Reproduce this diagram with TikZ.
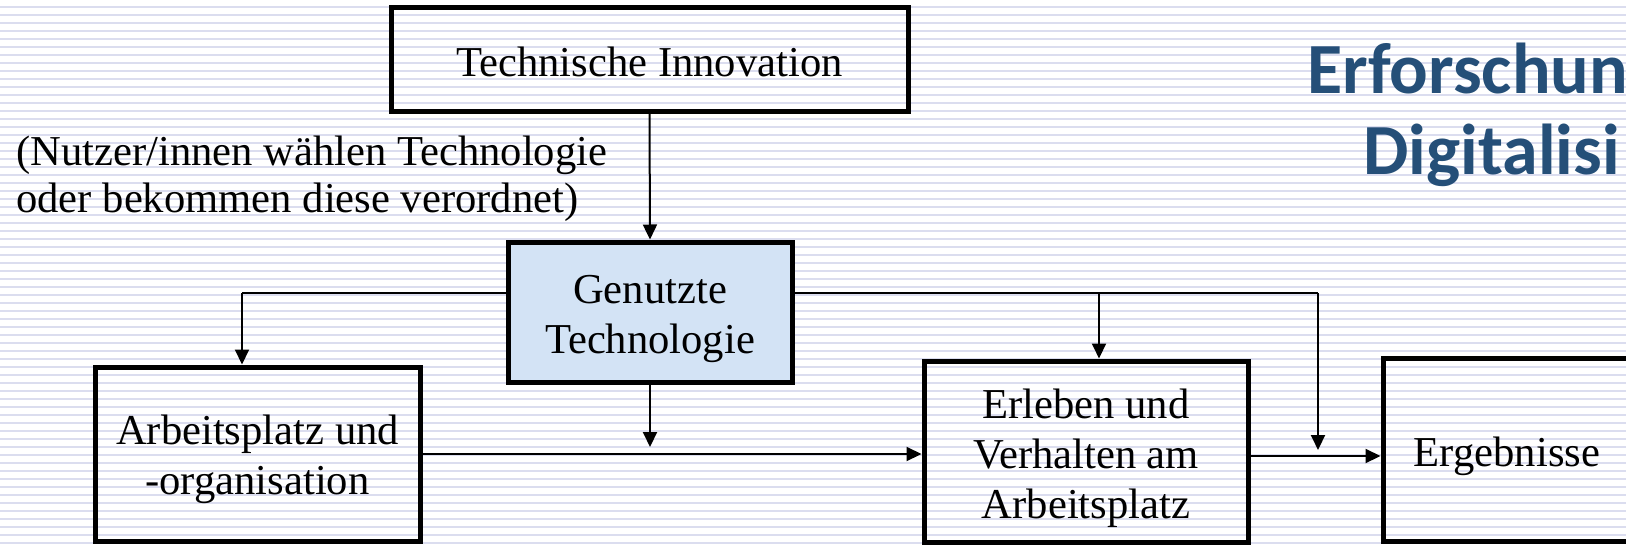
\documentclass[tikz,border=0pt]{standalone}
\usepackage{fontspec}
\setmainfont{Liberation Serif}
\newfontfamily\titlefont{Carlito}
\usetikzlibrary{arrows.meta}
\definecolor{stripe}{RGB}{219,221,239}
\definecolor{titleblue}{RGB}{37,79,120}
\definecolor{genfill}{RGB}{211,227,245}
\tikzset{
  box/.style={draw=black, line width=2.5pt, inner sep=0pt},
  boxtext/.style={align=center, inner sep=0pt, yshift=-3.5pt,
    font=\fontsize{21.3pt}{25pt}\selectfont},
  conn/.style={line width=1pt, -{Triangle[length=7.5pt,width=7pt]}},
  feed/.style={line width=0.9pt},
  titletext/.style={anchor=base west, inner sep=0pt, text=titleblue,
    font=\titlefont\bfseries\fontsize{36pt}{40pt}\selectfont},
}
\begin{document}
\begin{tikzpicture}[x=0.5pt,y=-0.5pt]
\useasboundingbox (0,0) rectangle (1626,546);
\fill[white] (0,0) rectangle (1626,546);
\foreach \k in {0,...,67} \draw[stripe, line width=1pt] (0,7+8*\k) -- (1626,7+8*\k);

\node[box, minimum width=258.5pt, minimum height=52pt,
  label={[boxtext, yshift=2pt]center:Technische Innovation}] (tech) at (649.5,59) {};
\node[box, fill=genfill, minimum width=142pt, minimum height=70pt,
  label={[boxtext]center:{Genutzte\\Technologie}}] (gen) at (650,312) {};
\node[box, minimum width=162.5pt, minimum height=87pt,
  label={[boxtext, yshift=1pt]center:{Arbeitsplatz und\\-organisation}}] (arb) at (257.5,454) {};
\node[box, minimum width=162pt, minimum height=90.5pt,
  label={[boxtext]center:{Erleben und\\Verhalten am\\Arbeitsplatz}}] (erl) at (1086,451.5) {};
\node[box, minimum width=124pt, minimum height=91.5pt,
  label={[boxtext]center:Ergebnisse}] (erg) at (1507,449.5) {};

\node[anchor=base west, align=left, inner sep=0pt, font=\fontsize{21.3pt}{23.5pt}\selectfont] (nutzer) at (16,212) {(Nutzer/innen wählen Technologie\\oder bekommen diese verordnet)};

\node[titletext] (t1) at (1307,93) {Erforschun};
\node[titletext] (t2) at (1363,174) {Digitalisi};

\coordinate (jl) at (242,293);
\coordinate (jm) at (1099,293);
\coordinate (jr) at (1318,293);
\coordinate (jrend) at (1318,450);
\coordinate (gd) at (650,447);
\coordinate (hr) at (1250,456);

\draw[conn] (tech.south) -- (gen.north);
\draw[feed] (gen.west |- jl) -- (jl);
\draw[conn] (jl) -- (jl |- arb.north);
\draw[feed] (gen.east |- jr) -- (jr);
\draw[conn] (jr) -- (jrend);
\draw[conn] (jm) -- (jm |- erl.north);
\draw[conn] (gen.south) -- (gd);
\draw[conn] (arb.east) -- (arb.east -| erl.west);
\draw[conn] (erl.east |- hr) -- (erg.west |- hr);
\end{tikzpicture}
\end{document}
